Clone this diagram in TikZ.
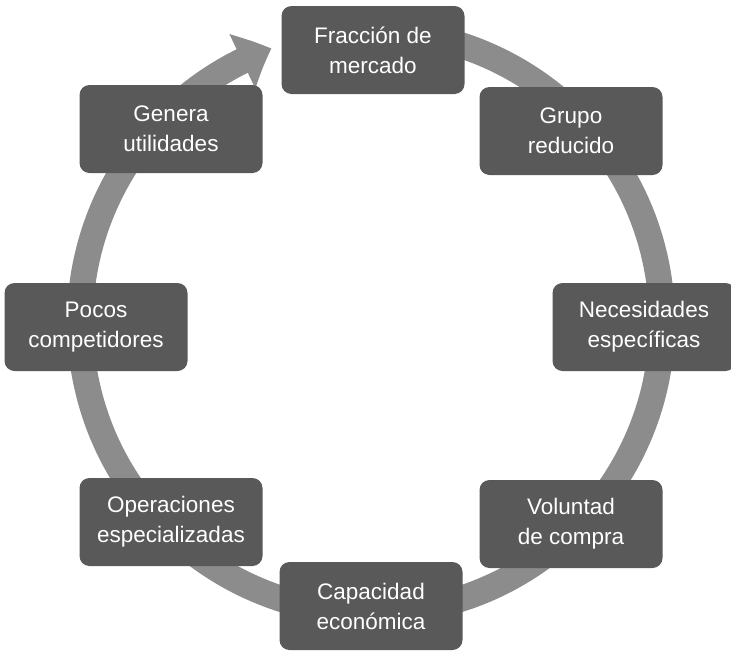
\documentclass[tikz,border=0pt]{standalone}
\usepackage{fontspec}
\setmainfont{Liberation Sans}
\usetikzlibrary{arrows.meta,bending}
\definecolor{cajagris}{HTML}{595959}
\definecolor{anillo}{HTML}{8C8C8C}
\tikzset{
  caja/.style={fill=cajagris,text=white,rounded corners=10pt,
    minimum width=183pt,minimum height=88pt,inner sep=0pt,
    align=center,font=\fontsize{22.5}{30}\selectfont},
}
\begin{document}
\begin{tikzpicture}[x=1pt,y=1pt,>={Triangle[width=58pt,length=32pt,bend]}]
\useasboundingbox (0,0) rectangle (731,-651);
\coordinate (c) at (371,-322);
% anillo con flecha
\draw[anillo,line width=26pt,->] ([shift={(100:291)}]c)
  arc[start angle=100,end angle=-250,radius=291];
% cajas
\node[caja] (fraccion) at (373,-50) {Fracción de\\mercado};
\node[caja] (grupo) at (571,-131) {Grupo\\reducido};
\node[caja] (necesidades) at (644,-327) {Necesidades\\específicas};
\node[caja] (voluntad) at (571,-524) {Voluntad\\de compra};
\node[caja] (capacidad) at (371,-606) {Capacidad\\económica};
\node[caja] (operaciones) at (171,-522) {Operaciones\\especializadas};
\node[caja] (pocos) at (96,-327) {Pocos\\competidores};
\node[caja] (genera) at (171,-129) {Genera\\utilidades};
\end{tikzpicture}
\end{document}
